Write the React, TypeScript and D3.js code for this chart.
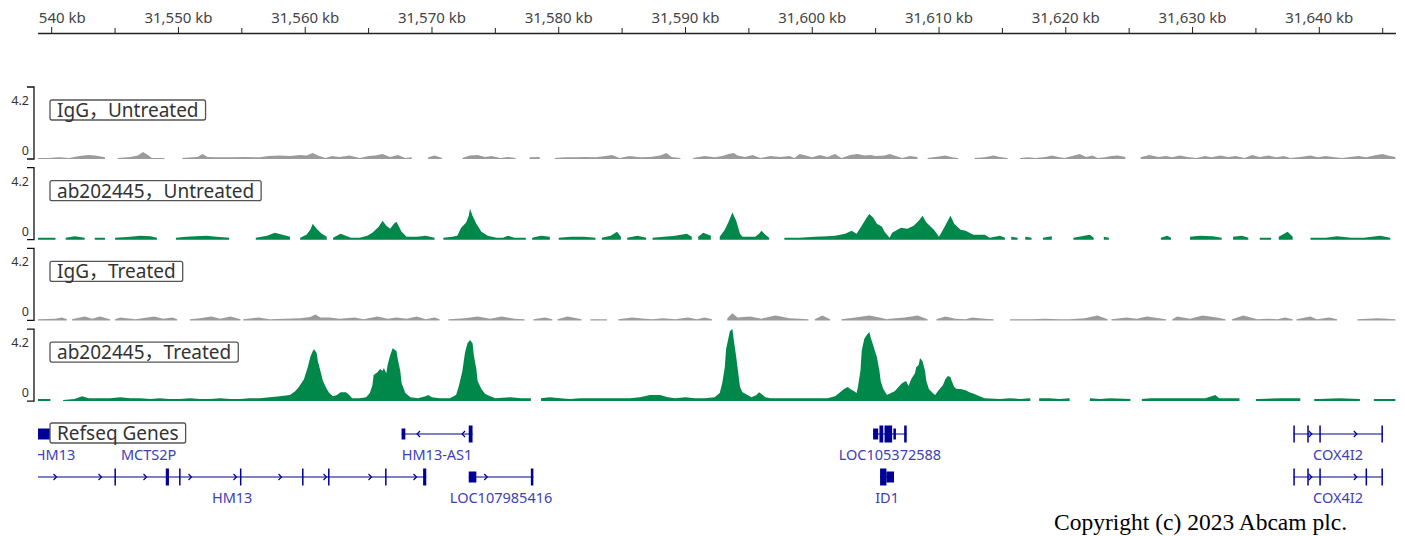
import * as d3 from "d3";

// genomic window shown (kb)
const viewStart = 31538.92;
const viewEnd = 31646.05;

// coverage tracks: [position kb, signal] ; null = no coverage
type Pt = [number, number | null];

const igGUntreated: Pt[] = [
  [31538.9, 0.06], [31539.7, 0.06], [31540.6, 0.1], [31541.4, 0.06], [31542.2, 0.17], [31542.9, 0.23], [31543.4, 0.2], [31544.2, 0.1], [31544.6, null],
  [31545.2, 0.06], [31546.2, 0.12], [31546.8, 0.2], [31547.2, 0.41], [31547.6, 0.23], [31547.9, 0.06], [31548.9, 0.06], [31549.6, null],
  [31550.3, 0.06], [31551.1, 0.1], [31551.5, 0.12], [31551.9, 0.29], [31552.3, 0.12], [31552.9, 0.1], [31554.1, 0.1], [31555.2, 0.12], [31556.4, 0.1],
  [31557.1, 0.17], [31558.0, 0.2], [31558.8, 0.17], [31559.6, 0.23], [31560.1, 0.2], [31560.6, 0.35], [31561.0, 0.2], [31561.6, 0.06], [31562.1, 0.17],
  [31562.7, 0.12], [31563.5, 0.2], [31564.3, 0.06], [31565.0, 0.17], [31565.5, 0.2], [31566.1, 0.29], [31566.7, 0.12], [31567.3, 0.23], [31567.9, 0.06],
  [31568.4, 0.1], [31568.9, null], [31569.7, 0.1], [31570.2, 0.2], [31570.8, 0.06], [31571.4, null], [31572.4, 0.06], [31573.0, 0.2], [31573.6, 0.23],
  [31574.2, 0.12], [31574.7, 0.17], [31575.4, 0.06], [31576.0, 0.12], [31576.6, 0.06], [31577.1, null], [31577.7, 0.1], [31578.5, 0.12], [31579.2, null],
  [31579.7, 0.06], [31580.5, 0.1], [31581.3, 0.1], [31582.1, 0.12], [31582.9, 0.1], [31583.7, 0.17], [31584.2, 0.23], [31584.8, 0.06], [31585.6, 0.17],
  [31586.4, 0.1], [31587.2, 0.12], [31588.0, 0.2], [31588.5, 0.35], [31588.9, 0.12], [31589.6, 0.06], [31590.2, null], [31590.6, 0.06], [31591.5, 0.17],
  [31592.3, 0.1], [31592.9, 0.17], [31593.4, 0.29], [31593.8, 0.35], [31594.1, 0.2], [31594.7, 0.12], [31595.3, 0.23], [31595.9, 0.06], [31596.7, 0.17],
  [31597.5, 0.12], [31598.2, 0.17], [31598.6, 0.06], [31599.0, 0.29], [31599.5, 0.2], [31600.0, 0.1], [31600.6, 0.23], [31601.2, 0.12], [31601.8, 0.29],
  [31602.3, 0.06], [31603.0, 0.23], [31603.6, 0.29], [31604.1, 0.2], [31604.6, 0.23], [31605.0, 0.17], [31605.7, 0.2], [31606.1, 0.29], [31606.6, 0.17],
  [31607.1, 0.06], [31607.7, 0.17], [31608.3, 0.12], [31608.7, null], [31609.1, 0.06], [31609.7, 0.12], [31610.5, 0.2], [31611.0, 0.1], [31611.5, 0.06],
  [31612.0, null], [31612.8, 0.06], [31613.6, 0.1], [31614.3, 0.2], [31614.8, 0.12], [31615.4, 0.06], [31615.8, null], [31616.4, 0.06], [31617.0, 0.1],
  [31617.6, 0.06], [31618.4, 0.12], [31618.9, 0.2], [31619.4, 0.12], [31619.9, 0.06], [31620.5, 0.17], [31621.1, 0.29], [31621.6, 0.12], [31622.1, 0.2],
  [31622.5, 0.06], [31623.1, 0.1], [31623.6, 0.17], [31624.1, 0.2], [31624.7, 0.12], [31625.2, null], [31625.9, 0.1], [31626.6, 0.23], [31627.3, 0.12],
  [31627.9, 0.17], [31628.4, 0.1], [31629.0, 0.2], [31629.6, 0.12], [31630.3, 0.06], [31631.0, 0.17], [31631.5, 0.1], [31632.2, 0.2], [31632.8, 0.12],
  [31633.4, 0.17], [31634.1, 0.06], [31634.7, 0.23], [31635.3, 0.12], [31636.0, 0.2], [31636.6, 0.1], [31637.2, 0.17], [31637.7, 0.06], [31638.5, 0.12],
  [31639.3, 0.2], [31639.9, 0.1], [31640.5, 0.17], [31641.2, 0.1], [31641.8, 0.06], [31642.4, 0.12], [31643.1, 0.17], [31643.7, 0.1], [31644.3, 0.2],
  [31645.0, 0.29], [31645.4, 0.2], [31646.0, 0.12],
];

const abUntreated: Pt[] = [
  [31538.9, 0.12], [31540.3, 0.12], [31540.6, null], [31541.1, 0.12], [31541.8, 0.2], [31542.6, 0.12], [31543.0, null], [31543.4, 0.12], [31544.2, 0.12],
  [31544.6, null], [31545.0, 0.12], [31546.2, 0.17], [31547.0, 0.23], [31547.8, 0.2], [31548.3, 0.12], [31548.6, null], [31549.8, 0.12], [31550.6, 0.17],
  [31551.4, 0.2], [31552.2, 0.23], [31553.0, 0.17], [31554.0, 0.12], [31554.4, null], [31555.0, 0.12], [31555.4, null], [31556.1, 0.12], [31557.0, 0.23],
  [31557.6, 0.41], [31558.2, 0.29], [31558.8, 0.17], [31559.2, null], [31559.6, 0.12], [31560.1, 0.29], [31560.4, 0.58], [31560.6, 0.93], [31560.9, 0.64],
  [31561.3, 0.35], [31561.7, 0.17], [31562.0, null], [31562.2, 0.12], [31562.5, 0.23], [31562.8, 0.35], [31563.2, 0.23], [31563.6, 0.12], [31564.3, 0.12],
  [31564.9, 0.23], [31565.3, 0.41], [31565.8, 0.76], [31566.1, 1.1], [31566.4, 0.82], [31566.7, 0.64], [31567.0, 0.93], [31567.2, 1.05], [31567.4, 0.76],
  [31567.6, 0.47], [31568.0, 0.17], [31568.8, 0.17], [31569.5, 0.23], [31570.2, 0.12], [31570.7, null], [31570.9, 0.12], [31571.6, 0.17], [31572.0, 0.23],
  [31572.3, 0.7], [31572.7, 1.0], [31572.9, 1.4], [31573.0, 1.8], [31573.2, 1.4], [31573.5, 0.93], [31573.9, 0.47], [31574.4, 0.23], [31575.1, 0.12],
  [31575.6, 0.12], [31576.0, 0.23], [31576.5, 0.12], [31577.4, 0.12], [31577.6, null], [31577.9, 0.12], [31578.6, 0.23], [31579.3, 0.17], [31579.7, null],
  [31580.0, 0.12], [31581.0, 0.17], [31582.0, 0.17], [31582.9, 0.12], [31583.1, null], [31583.4, 0.12], [31584.1, 0.23], [31584.6, 0.47], [31584.9, 0.17],
  [31585.1, null], [31585.4, 0.12], [31586.2, 0.23], [31586.9, 0.12], [31587.1, null], [31587.4, 0.12], [31588.3, 0.17], [31589.2, 0.23], [31590.1, 0.35],
  [31590.5, 0.17], [31590.7, null], [31591.0, 0.17], [31591.4, 0.41], [31592.0, 0.23], [31592.3, null], [31592.7, 0.17], [31593.1, 0.58], [31593.4, 1.05],
  [31593.7, 1.58], [31594.0, 1.1], [31594.3, 0.35], [31594.5, 0.17], [31595.5, 0.17], [31595.8, 0.35], [31596.0, 0.52], [31596.3, 0.29], [31596.6, 0.12],
  [31596.8, null], [31597.8, 0.12], [31599.0, 0.12], [31600.2, 0.17], [31601.2, 0.2], [31601.8, 0.23], [31602.6, 0.35], [31603.1, 0.52], [31603.5, 0.35],
  [31603.9, 0.82], [31604.3, 1.3], [31604.5, 1.5], [31604.8, 1.3], [31605.1, 0.93], [31605.5, 0.76], [31605.7, 0.47], [31606.1, 0.12], [31606.3, 0.41],
  [31607.0, 0.7], [31607.5, 0.64], [31608.0, 0.82], [31608.4, 1.1], [31608.7, 1.4], [31609.0, 1.0], [31609.6, 0.58], [31610.0, 0.17], [31610.4, 0.7],
  [31610.9, 1.4], [31611.2, 0.93], [31611.7, 0.58], [31612.1, 0.52], [31612.7, 0.29], [31613.6, 0.29], [31614.0, 0.12], [31614.8, 0.23], [31615.2, 0.12],
  [31615.5, null], [31615.7, 0.17], [31616.2, 0.12], [31616.4, null], [31616.8, 0.17], [31617.3, 0.12], [31617.9, null], [31618.2, 0.12], [31618.9, 0.2],
  [31619.5, null], [31620.6, 0.12], [31621.9, 0.29], [31622.2, 0.12], [31622.5, null], [31623.0, 0.17], [31623.4, 0.12], [31623.6, null], [31624.6, 0.12],
  [31625.1, null], [31625.8, 0.12], [31626.3, null], [31627.5, 0.12], [31628.0, 0.23], [31628.3, 0.12], [31628.5, null], [31629.8, 0.17], [31630.6, 0.23],
  [31631.6, 0.2], [31632.3, 0.12], [31632.5, null], [31633.2, 0.17], [31633.9, 0.23], [31634.4, 0.12], [31634.7, null], [31635.3, 0.12], [31636.2, 0.12],
  [31636.4, null], [31636.8, 0.17], [31637.5, 0.47], [31637.9, 0.17], [31638.0, null], [31639.3, 0.12], [31640.5, 0.12], [31641.4, 0.2], [31642.5, 0.12],
  [31643.5, 0.12], [31644.8, 0.23], [31645.6, 0.12], [31645.7, null],
];

const igGTreated: Pt[] = [
  [31538.9, 0.06], [31540.3, 0.1], [31540.8, 0.17], [31541.2, 0.06], [31541.4, null], [31541.6, 0.06], [31542.6, 0.23], [31543.2, 0.1], [31543.8, 0.23],
  [31544.6, 0.06], [31544.7, null], [31545.0, 0.06], [31545.4, 0.17], [31546.6, 0.06], [31548.1, 0.23], [31548.8, 0.1], [31549.5, 0.17], [31549.9, 0.06],
  [31550.4, null], [31550.9, 0.06], [31551.7, 0.12], [31552.6, 0.23], [31553.3, 0.1], [31554.1, 0.23], [31554.9, 0.06], [31555.0, null], [31555.1, 0.06],
  [31556.3, 0.17], [31557.2, 0.06], [31558.4, 0.1], [31559.6, 0.12], [31560.4, 0.2], [31560.8, 0.35], [31561.2, 0.17], [31561.9, 0.17], [31562.7, 0.1],
  [31563.9, 0.17], [31564.6, 0.06], [31565.7, 0.23], [31566.5, 0.1], [31567.2, 0.17], [31568.0, 0.1], [31568.8, 0.23], [31569.5, 0.06], [31570.2, 0.17],
  [31570.6, 0.06], [31570.9, null], [31571.3, 0.06], [31572.6, 0.12], [31573.6, 0.23], [31574.6, 0.1], [31575.5, 0.23], [31576.5, 0.1], [31577.3, 0.06],
  [31577.6, null], [31578.0, 0.06], [31578.9, 0.17], [31579.5, 0.06], [31579.7, null], [31579.9, 0.06], [31580.7, 0.23], [31581.8, 0.06], [31582.1, null],
  [31582.5, 0.06], [31583.3, 0.06], [31583.8, 0.06], [31584.2, null], [31584.7, 0.06], [31585.8, 0.17], [31586.8, 0.1], [31587.4, 0.06], [31588.2, 0.12],
  [31589.2, 0.06], [31590.2, 0.17], [31590.9, 0.06], [31591.5, 0.17], [31592.1, 0.06], [31592.6, null], [31593.3, 0.12], [31593.7, 0.41], [31594.1, 0.17],
  [31595.1, 0.23], [31596.0, 0.1], [31597.1, 0.29], [31598.2, 0.12], [31599.0, 0.1], [31599.7, 0.06], [31600.0, null], [31600.2, 0.06], [31600.8, 0.29],
  [31601.4, 0.06], [31601.9, null], [31602.3, 0.06], [31603.4, 0.17], [31604.5, 0.29], [31605.3, 0.17], [31605.9, 0.06], [31606.1, 0.1], [31607.3, 0.17],
  [31608.3, 0.29], [31609.1, 0.06], [31609.5, null], [31609.8, 0.06], [31610.5, 0.23], [31611.3, 0.1], [31612.1, 0.06], [31612.6, 0.17], [31613.6, 0.1],
  [31614.3, 0.06], [31614.8, null], [31615.6, 0.06], [31617.2, 0.06], [31618.4, 0.1], [31619.5, 0.06], [31620.3, 0.06], [31621.5, 0.12], [31622.5, 0.29],
  [31623.3, 0.06], [31623.5, null], [31623.6, 0.06], [31624.8, 0.17], [31625.6, 0.1], [31626.4, 0.23], [31627.9, 0.06], [31628.1, null], [31628.4, 0.06],
  [31628.8, 0.23], [31629.8, 0.1], [31630.8, 0.29], [31631.9, 0.17], [31632.6, 0.06], [31632.8, null], [31633.1, 0.06], [31634.0, 0.29], [31635.1, 0.06],
  [31635.9, 0.1], [31636.7, 0.06], [31637.3, 0.17], [31637.9, 0.06], [31638.1, null], [31638.2, 0.06], [31639.3, 0.23], [31639.8, 0.06], [31640.8, 0.17],
  [31641.4, 0.06], [31642.0, null], [31643.0, 0.06], [31644.6, 0.12], [31646.0, 0.06],
];

const abTreated: Pt[] = [
  [31538.9, 0.12], [31539.9, 0.12], [31540.3, null], [31540.9, 0.06], [31541.8, 0.12], [31542.4, 0.29], [31542.9, 0.17], [31543.8, 0.17], [31544.6, 0.17],
  [31545.4, 0.23], [31546.2, 0.17], [31547.0, 0.17], [31547.8, 0.12], [31548.5, 0.17], [31549.3, 0.12], [31550.1, 0.12], [31550.9, 0.17], [31551.7, 0.12],
  [31552.5, 0.12], [31553.3, 0.17], [31554.1, 0.12], [31554.9, 0.12], [31555.6, 0.17], [31556.4, 0.17], [31557.2, 0.23], [31558.0, 0.29], [31558.8, 0.35],
  [31559.2, 0.58], [31559.5, 0.82], [31559.9, 1.28], [31560.2, 1.98], [31560.4, 2.57], [31560.6, 2.92], [31560.7, 3.03], [31560.9, 2.8], [31561.0, 2.33],
  [31561.2, 1.75], [31561.4, 1.17], [31561.7, 0.7], [31561.9, 0.47], [31562.2, 0.29], [31562.5, 0.35], [31562.8, 0.52], [31563.2, 0.52], [31563.4, 0.41],
  [31563.7, 0.17], [31564.3, 0.17], [31564.8, 0.23], [31565.1, 0.47], [31565.3, 0.93], [31565.4, 1.52], [31565.7, 1.69], [31565.9, 1.87], [31566.1, 1.75],
  [31566.2, 1.93], [31566.4, 1.63], [31566.5, 2.1], [31566.7, 2.68], [31566.9, 3.09], [31567.2, 2.92], [31567.3, 2.45], [31567.5, 1.75], [31567.6, 1.05],
  [31567.9, 0.47], [31568.3, 0.23], [31568.9, 0.17], [31569.5, 0.29], [31569.7, 0.35], [31570.0, 0.23], [31570.6, 0.17], [31571.4, 0.17], [31571.9, 0.35],
  [31572.1, 0.82], [31572.4, 1.75], [31572.6, 2.8], [31572.8, 3.38], [31573.0, 3.56], [31573.2, 3.38], [31573.3, 2.68], [31573.5, 1.87], [31573.6, 1.17],
  [31573.9, 0.7], [31574.2, 0.41], [31574.6, 0.29], [31575.0, 0.17], [31576.2, 0.23], [31577.0, 0.17], [31577.8, 0.17], [31578.3, null], [31578.6, 0.17],
  [31579.3, 0.23], [31580.1, 0.17], [31580.9, 0.12], [31581.7, 0.17], [31582.5, 0.17], [31583.3, 0.17], [31584.0, 0.17], [31584.8, 0.17], [31585.6, 0.17],
  [31586.4, 0.23], [31587.2, 0.35], [31588.0, 0.35], [31588.6, 0.23], [31589.2, 0.17], [31590.0, 0.23], [31590.7, 0.17], [31591.5, 0.17], [31592.3, 0.23],
  [31592.7, 0.47], [31592.9, 1.05], [31593.1, 1.98], [31593.2, 3.03], [31593.4, 3.73], [31593.5, 4.08], [31593.7, 4.2], [31593.8, 3.62], [31594.0, 2.57],
  [31594.2, 1.4], [31594.3, 0.82], [31594.5, 0.52], [31594.9, 0.35], [31595.2, 0.23], [31595.6, 0.35], [31595.8, 0.52], [31596.0, 0.41], [31596.3, 0.23],
  [31596.7, 0.17], [31598.2, 0.17], [31599.8, 0.17], [31601.2, 0.17], [31601.8, 0.29], [31602.2, 0.52], [31602.5, 0.7], [31602.8, 0.82], [31603.0, 0.7],
  [31603.3, 0.58], [31603.5, 0.47], [31603.6, 0.82], [31603.8, 1.75], [31603.9, 2.92], [31604.1, 3.62], [31604.3, 3.85], [31604.5, 4.03], [31604.6, 3.73],
  [31604.8, 3.27], [31604.9, 3.03], [31605.1, 2.57], [31605.3, 1.75], [31605.4, 1.17], [31605.6, 0.7], [31605.9, 0.35], [31606.2, 0.47], [31606.5, 0.58],
  [31606.8, 0.82], [31607.1, 1.05], [31607.4, 1.17], [31607.6, 0.88], [31607.8, 1.28], [31608.1, 1.63], [31608.2, 1.98], [31608.4, 2.1], [31608.5, 2.51],
  [31608.7, 2.33], [31608.9, 1.75], [31609.0, 1.17], [31609.2, 0.7], [31609.5, 0.47], [31609.7, 0.35], [31609.9, 0.58], [31610.3, 0.93], [31610.5, 1.28],
  [31610.7, 1.46], [31610.9, 1.4], [31611.0, 1.17], [31611.2, 0.82], [31611.4, 0.7], [31611.7, 0.7], [31612.1, 0.64], [31612.4, 0.52], [31612.8, 0.41],
  [31613.2, 0.29], [31613.6, 0.17], [31614.8, 0.12], [31615.6, 0.17], [31616.4, 0.12], [31617.2, 0.17], [31617.5, null], [31617.9, 0.17], [31618.7, 0.17],
  [31619.5, 0.12], [31620.3, 0.17], [31621.1, null], [31621.9, 0.17], [31622.7, 0.12], [31623.5, 0.17], [31625.1, 0.12], [31625.6, null], [31626.0, 0.12],
  [31626.7, 0.17], [31628.2, 0.17], [31629.8, 0.17], [31631.0, 0.17], [31631.5, 0.29], [31631.8, 0.35], [31632.1, 0.17], [31633.7, 0.17], [31634.5, null],
  [31635.0, 0.12], [31635.3, 0.12], [31636.9, 0.17], [31638.5, 0.17], [31639.2, null], [31639.6, 0.12], [31640.0, 0.12], [31641.6, 0.17], [31643.2, 0.12],
  [31643.9, null], [31644.3, 0.12], [31644.8, 0.12], [31646.0, 0.12],
];

const trackNames = ["IgG，Untreated", "ab202445，Untreated", "IgG，Treated", "ab202445，Treated"];
const trackData = [igGUntreated, abUntreated, igGTreated, abTreated];
const trackColors = ["#9b9b9b", "#00874a", "#9b9b9b", "#00874a"];
const trackMax = 4.2;

// Refseq genes: [start, end] kb, exons [start, end, coding]
const geneNames = ["HM13", "MCTS2P", "HM13-AS1", "LOC105372588", "COX4I2", "HM13", "LOC107985416", "ID1", "COX4I2"];
const geneRows = [0, 0, 0, 0, 0, 1, 1, 1, 1];
const geneStrands = ["+", "+", "-", "-", "+", "+", "+", "+", "+"];
const geneSpans: [number, number][] = [
  [31535.0, 31539.9], [31547.4, 31547.9], [31567.6, 31573.2], [31604.8, 31607.45], [31637.95, 31645.0],
  [31535.0, 31569.55], [31572.9, 31578.0], [31605.35, 31606.45], [31637.95, 31645.0],
];
const geneExons: [number, number, number][][] = [
  [[31538.9, 31539.9, 0]],
  [[31547.4, 31547.9, 1]],
  [[31567.6, 31567.9, 0], [31572.9, 31573.2, 1]],
  [[31604.8, 31605.2, 0], [31605.3, 31605.6, 1], [31605.7, 31606.3, 1], [31606.4, 31606.6, 0], [31607.25, 31607.45, 1]],
  [[31637.95, 31638.05, 1], [31639.05, 31639.15, 1], [31640.0, 31640.1, 1], [31644.9, 31645.0, 1]],
  [[31544.95, 31545.05, 1], [31549.0, 31549.25, 1], [31550.05, 31550.15, 1], [31554.85, 31554.95, 1], [31559.75, 31559.85, 1],
   [31561.8, 31561.9, 1], [31566.3, 31566.4, 1], [31569.3, 31569.55, 1]],
  [[31572.9, 31573.5, 0], [31577.8, 31578.0, 1]],
  [[31605.35, 31605.85, 1], [31605.85, 31606.45, 0]],
  [[31637.95, 31638.05, 1], [31639.05, 31639.15, 1], [31640.0, 31640.1, 1], [31643.65, 31643.75, 1], [31644.9, 31645.0, 1]],
];

const W = 1405;
const H = 536;
const left = 38;
const right = 1396;
const uiFont = "'Noto Sans', 'Noto Sans CJK SC', sans-serif";
const geneColor = "#000096";
const geneText = "#4040b4";

export default function App() {
  const x = d3.scaleLinear().domain([viewStart, viewEnd]).range([left, right]);
  const majorTicks = d3.range(31540, viewEnd, 10);
  const minorTicks = d3.range(31545, viewEnd, 10);
  const fmt = d3.format(",");

  const trackTop = (i: number) => 87 + i * 80.7;
  const trackH = 72;

  const rowY = [434, 477];
  const labelY = [460, 503];

  return (
    <svg width={W} height={H} style={{ position: "absolute", left: 0, top: 0, background: "#fff" }}>
      <defs>
        <clipPath id="view">
          <rect x={left} y={0} width={right - left} height={H} />
        </clipPath>
      </defs>

      {/* ruler */}
      <g clipPath="url(#view)">
        {majorTicks.map((t) => (
          <g key={t}>
            <line x1={x(t)} x2={x(t)} y1={27} y2={33} stroke="#222" strokeWidth={1} />
            <text x={x(t)} y={23} textAnchor="middle" fontSize={15} fontFamily={uiFont} fill="#444">
              {fmt(t)} kb
            </text>
          </g>
        ))}
        {minorTicks.map((t) => (
          <line key={t} x1={x(t)} x2={x(t)} y1={28} y2={33} stroke="#222" strokeWidth={1} />
        ))}
      </g>
      <line x1={left} x2={right} y1={33.5} y2={33.5} stroke="#222" strokeWidth={1.5} />

      {/* coverage tracks */}
      {trackData.map((data, i) => {
        const top = trackTop(i);
        const bottom = top + trackH;
        const y = d3.scaleLinear().domain([0, trackMax]).range([bottom, top]);
        const area = d3
          .area<Pt>()
          .defined((d) => d[1] != null)
          .x((d) => x(d[0]))
          .y0(bottom)
          .y1((d) => y(d[1] as number));
        return (
          <g key={i}>
            <path d={`M27,${top}H34V${bottom}H27`} fill="none" stroke="#111" strokeWidth={1.3} />
            <text x={29} y={top + 18} textAnchor="end" fontSize={12.5} fontFamily={uiFont} fill="#333">4.2</text>
            <text x={29} y={bottom - 4} textAnchor="end" fontSize={12.5} fontFamily={uiFont} fill="#333">0</text>
            <g clipPath="url(#view)">
              <path d={area(data) ?? ""} fill={trackColors[i]} />
            </g>
            <TrackLabel x={50} y={top + 13} text={trackNames[i]} />
          </g>
        );
      })}

      {/* genes */}
      <g clipPath="url(#view)">
        {geneNames.map((name, g) => {
          const [s, e] = geneSpans[g];
          const cy = rowY[geneRows[g]];
          const x0 = x(s);
          const x1 = x(e);
          const arrows: number[] = [];
          for (let ax = Math.max(x0, left) + 17; ax < x1 - 6; ax += 45) arrows.push(ax);
          const dir = geneStrands[g] === "+" ? 1 : -1;
          const cx = x0 < left ? Math.max((left + x1) / 2, left + 17) : (x0 + x1) / 2;
          return (
            <g key={g}>
              <line x1={x0} x2={x1} y1={cy} y2={cy} stroke={geneColor} strokeWidth={1.2} />
              {arrows.map((ax) => (
                <path
                  key={ax}
                  d={`M${ax - 1.5 * dir},${cy - 3}L${ax + 1.5 * dir},${cy}L${ax - 1.5 * dir},${cy + 3}`}
                  fill="none"
                  stroke={geneColor}
                  strokeWidth={1.2}
                />
              ))}
              {geneExons[g].map(([es, ee, coding], k) => {
                const h = coding ? 17 : 11;
                const ex0 = x(es);
                const w = Math.max(x(ee) - ex0, 1.5);
                return <rect key={k} x={ex0} y={cy - h / 2} width={w} height={h} fill={geneColor} />;
              })}
              <text x={cx} y={labelY[geneRows[g]]} textAnchor="middle" fontSize={14.5} fontFamily={uiFont} fill={geneText}>
                {name}
              </text>
            </g>
          );
        })}
      </g>
      <TrackLabel x={50} y={423} text="Refseq Genes" />

      <text x={1054} y={530} fontSize={23.5} fontFamily="'Liberation Serif', 'DejaVu Serif', serif" fill="#000">
        Copyright (c) 2023 Abcam plc.
      </text>
    </svg>
  );
}

function TrackLabel({ x, y, text }: { x: number; y: number; text: string }) {
  const fs = 19;
  const w = measure(text, fs);
  return (
    <g>
      <rect x={x} y={y} width={w + 14} height={20} rx={2} fill="#fff" stroke="#555" strokeWidth={1.3} />
      <text x={x + 7} y={y + 17} fontSize={fs} fontFamily={uiFont} fill="#333">
        {text}
      </text>
    </g>
  );
}

let ctx: CanvasRenderingContext2D | null = null;
function measure(text: string, fs: number) {
  if (!ctx) ctx = document.createElement("canvas").getContext("2d");
  if (!ctx) return text.length * fs * 0.55;
  ctx.font = `${fs}px 'Noto Sans', 'Noto Sans CJK SC', sans-serif`;
  return ctx.measureText(text).width;
}
